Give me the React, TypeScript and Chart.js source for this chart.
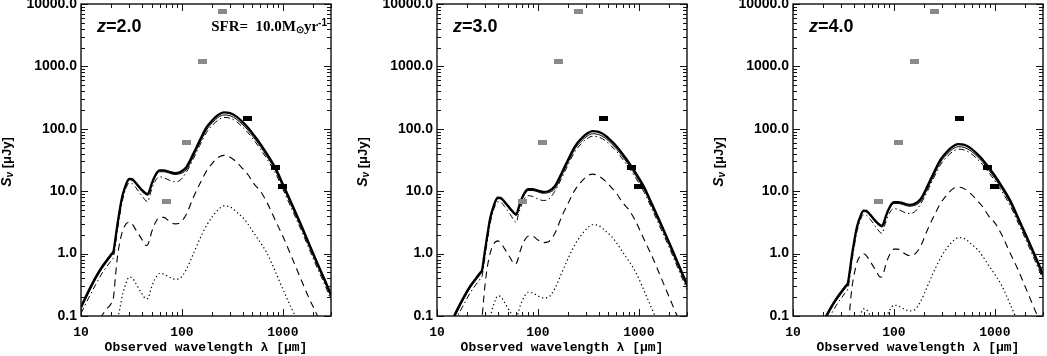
import React, { useEffect, useRef } from "react";
import { Chart, registerables } from "chart.js";

Chart.register(...registerables);

// ---------------- data ----------------
const xTickValues = [10, 100, 1000];
const yTickValues = [0.1, 1, 10, 100, 1000, 10000];

// observational limits (same in each panel)
const grayWl = [70, 110, 160, 250];
const grayFlux = [6.8, 60, 1200, 7700];
const blackWl = [450, 850, 1000];
const blackFlux = [144, 24, 12];

// z = 2.0
const wlZ2 = [10, 12, 14, 16, 18, 20, 21, 22, 23, 24, 25, 26, 28, 30, 32, 35, 40, 44, 46, 48, 50, 55, 60, 66, 75, 85, 95, 110, 130, 150, 175, 200, 230, 260, 300, 350, 400, 450, 520, 600, 700, 850, 1000, 1200, 1500, 1800, 2200, 2600, 3000];
const totalZ2 = [0.14, 0.26, 0.42, 0.6, 0.78, 0.98, 1.1, 1.8, 3.0, 4.6, 6.8, 9.0, 13, 15.8, 15.6, 13.5, 10.5, 9.2, 9.0, 10.5, 13, 18.5, 21.5, 21.5, 20.5, 19.5, 20, 24, 40, 65, 105, 137, 168, 183, 178, 155, 128, 105, 78, 57, 39, 23, 13, 6.8, 3.0, 1.5, 0.7, 0.38, 0.22];
const thinZ2 = [0.13, 0.24, 0.39, 0.56, 0.73, 0.92, 1.03, 1.7, 2.8, 4.3, 6.4, 8.5, 12.5, 15.2, 15, 13, 10, 8.8, 8.6, 10, 12.3, 17.5, 20.5, 20.5, 19.5, 18.5, 19, 21.8, 36.4, 59, 95.5, 125, 153, 166.5, 162, 141, 116.5, 95.5, 71, 52, 35.5, 21, 11.8, 6.2, 2.73, 1.37, 0.64, 0.35, 0.2];
const dashDotZ2 = [0.11, 0.2, 0.32, 0.47, 0.62, 0.78, 0.88, 1.4, 2.4, 3.7, 5.6, 7.6, 11.3, 13.5, 13.3, 11.4, 8.5, 7.0, 6.8, 8.5, 10.5, 15, 17, 16.5, 15, 14.2, 14.8, 19.9, 33.2, 54, 87, 114, 139, 152, 148, 129, 106, 87, 65, 47.3, 32.4, 19.1, 10.8, 5.6, 2.5, 1.25, 0.58, 0.32, 0.18];
const dashedZ2 = [0.03, 0.05, 0.07, 0.1, 0.13, 0.16, 0.2, 0.45, 0.9, 1.4, 1.9, 2.4, 3.0, 3.2, 3.0, 2.4, 1.7, 1.35, 1.4, 1.7, 2.2, 3.2, 3.8, 3.8, 3.3, 3.0, 3.1, 4.2, 8, 13, 21, 28, 35, 37.5, 35, 29, 23, 18.5, 13, 10, 6.5, 3.3, 1.9, 0.95, 0.4, 0.2, 0.1, 0.05, 0.025];
const dottedZ2 = [0.005, 0.01, 0.015, 0.02, 0.03, 0.04, 0.05, 0.07, 0.09, 0.12, 0.17, 0.23, 0.34, 0.42, 0.41, 0.33, 0.23, 0.19, 0.19, 0.23, 0.29, 0.41, 0.48, 0.47, 0.42, 0.39, 0.4, 0.55, 1.0, 1.7, 2.8, 3.9, 5.1, 5.8, 5.6, 4.6, 3.8, 3.0, 2.1, 1.5, 1.0, 0.5, 0.27, 0.14, 0.065, 0.03, 0.015, 0.007, 0.004];

// z = 3.0
const wlZ3 = [10, 13.3, 16, 18.7, 21.3, 24, 26.7, 28, 29.3, 30.7, 32, 33.3, 34.7, 37.3, 40, 42.7, 46.7, 53.3, 58.7, 61.3, 64, 66.7, 73.3, 80, 88, 100, 113, 127, 147, 173, 200, 233, 267, 307, 347, 400, 467, 533, 600, 693, 800, 933, 1133, 1333, 1600, 2000, 2400, 2933, 3467];
const totalZ3 = [0.03, 0.07, 0.13, 0.21, 0.3, 0.39, 0.49, 0.55, 0.9, 1.5, 2.3, 3.4, 4.5, 6.5, 7.9, 7.8, 6.75, 5.25, 4.4, 4.3, 5.25, 6.5, 9.25, 10.75, 10.75, 10.25, 9.75, 10, 12, 20, 32.5, 52.5, 68.5, 84, 91.5, 89, 77.5, 64, 52.5, 39, 28.5, 19.5, 11.5, 6.5, 3.4, 1.5, 0.75, 0.35, 0.19];
const thinZ3 = [0.028, 0.065, 0.12, 0.195, 0.28, 0.365, 0.46, 0.515, 0.85, 1.4, 2.15, 3.2, 4.25, 6.25, 7.6, 7.5, 6.5, 5, 4.2, 4.1, 5, 6.15, 8.75, 10.25, 10.25, 9.75, 9.25, 9.5, 10.9, 18.2, 29.6, 47.8, 62.3, 76.4, 83.3, 81, 70.5, 58.2, 47.8, 35.5, 25.9, 17.7, 10.5, 5.9, 3.1, 1.37, 0.68, 0.32, 0.17];
const dashDotZ3 = [0.02, 0.055, 0.1, 0.16, 0.235, 0.31, 0.39, 0.44, 0.7, 1.2, 1.85, 2.8, 3.8, 5.65, 6.75, 6.65, 5.7, 4.25, 3.3, 3.2, 4.25, 5.25, 7.5, 8.5, 8.25, 7.5, 7.1, 7.4, 9.96, 16.6, 27, 43.6, 56.9, 69.7, 75.9, 73.9, 64.3, 53.1, 43.6, 32.4, 23.7, 16.2, 9.5, 5.4, 2.8, 1.25, 0.62, 0.29, 0.16];
const dashedZ3 = [0.008, 0.015, 0.025, 0.035, 0.05, 0.065, 0.08, 0.1, 0.225, 0.45, 0.7, 0.95, 1.2, 1.5, 1.6, 1.5, 1.2, 0.85, 0.675, 0.7, 0.85, 1.1, 1.6, 1.9, 1.9, 1.65, 1.5, 1.55, 2.1, 4, 6.5, 10.5, 14, 17.5, 18.75, 17.5, 14.5, 11.5, 9.25, 6.5, 5, 3.25, 1.65, 0.95, 0.475, 0.2, 0.1, 0.05, 0.025];
const dottedZ3 = [0.001, 0.0025, 0.005, 0.0075, 0.01, 0.015, 0.02, 0.025, 0.035, 0.045, 0.06, 0.085, 0.115, 0.17, 0.21, 0.205, 0.165, 0.115, 0.095, 0.095, 0.115, 0.145, 0.205, 0.24, 0.235, 0.21, 0.195, 0.2, 0.275, 0.5, 0.85, 1.4, 1.95, 2.55, 2.9, 2.8, 2.3, 1.9, 1.5, 1.05, 0.75, 0.5, 0.25, 0.135, 0.07, 0.0325, 0.015, 0.0075, 0.0035];

// z = 4.0
const wlZ4 = [10, 16.7, 20, 23.3, 26.7, 30, 33.3, 35, 36.7, 38.3, 40, 41.7, 43.3, 46.7, 50, 53.3, 58.3, 66.7, 73.3, 76.7, 80, 83.3, 91.7, 100, 110, 125, 141.7, 158.3, 183.3, 216.7, 250, 291.7, 333.3, 383.3, 433.3, 500, 583.3, 666.7, 750, 866.7, 1000, 1166.7, 1416.7, 1666.7, 2000, 2500, 3000, 3667];
const totalZ4 = [0.015, 0.043, 0.081, 0.13, 0.186, 0.242, 0.304, 0.341, 0.558, 0.93, 1.43, 2.11, 2.79, 4.03, 4.9, 4.84, 4.19, 3.26, 2.85, 2.79, 3.26, 4.03, 5.74, 6.67, 6.67, 6.36, 6.05, 6.2, 7.44, 12.4, 20.2, 32.6, 42.5, 52.1, 56.7, 55.2, 48.1, 39.7, 32.6, 24.2, 17.7, 12.1, 7.13, 4.03, 2.11, 0.93, 0.465, 0.217];
const thinZ4 = [0.014, 0.04, 0.074, 0.121, 0.174, 0.226, 0.285, 0.319, 0.527, 0.868, 1.33, 1.98, 2.64, 3.88, 4.71, 4.65, 4.03, 3.1, 2.73, 2.67, 3.1, 3.81, 5.43, 6.36, 6.36, 6.05, 5.74, 5.89, 6.77, 11.3, 18.4, 29.7, 38.7, 47.4, 51.6, 50.2, 43.8, 36.1, 29.7, 22, 16.1, 11, 6.49, 3.67, 1.92, 0.846, 0.423, 0.197];
const dashDotZ4 = [0.01, 0.034, 0.062, 0.099, 0.146, 0.192, 0.242, 0.273, 0.434, 0.744, 1.15, 1.74, 2.36, 3.5, 4.19, 4.12, 3.53, 2.64, 2.17, 2.11, 2.64, 3.26, 4.65, 5.27, 5.12, 4.65, 4.4, 4.59, 6.18, 10.3, 16.8, 27.1, 35.3, 43.2, 47.1, 45.8, 39.9, 33, 27.1, 20.1, 14.7, 10, 5.92, 3.34, 1.75, 0.772, 0.386, 0.18];
const dashedZ4 = [0.005, 0.0093, 0.0155, 0.0217, 0.031, 0.04, 0.05, 0.062, 0.14, 0.279, 0.434, 0.589, 0.744, 0.93, 0.992, 0.93, 0.744, 0.527, 0.419, 0.434, 0.527, 0.682, 0.992, 1.18, 1.18, 1.02, 0.93, 0.961, 1.3, 2.48, 4.03, 6.51, 8.68, 10.9, 11.6, 10.9, 8.99, 7.13, 5.74, 4.03, 3.1, 2.02, 1.02, 0.589, 0.295, 0.124, 0.062, 0.031];
const dottedZ4 = [0.001, 0.0016, 0.0031, 0.0047, 0.0062, 0.0093, 0.0124, 0.0155, 0.0217, 0.0279, 0.0372, 0.0527, 0.0713, 0.105, 0.13, 0.127, 0.102, 0.0713, 0.059, 0.059, 0.0713, 0.09, 0.127, 0.149, 0.146, 0.13, 0.121, 0.124, 0.17, 0.31, 0.527, 0.868, 1.21, 1.58, 1.8, 1.74, 1.43, 1.18, 0.93, 0.651, 0.465, 0.31, 0.155, 0.084, 0.043, 0.02, 0.0093, 0.0047];

const panels = [
  { z: "2.0", wl: wlZ2, total: totalZ2, thin: thinZ2, dashDot: dashDotZ2, dashed: dashedZ2, dotted: dottedZ2, sfr: true, left: 0 },
  { z: "3.0", wl: wlZ3, total: totalZ3, thin: thinZ3, dashDot: dashDotZ3, dashed: dashedZ3, dotted: dottedZ3, sfr: false, left: 356 },
  { z: "4.0", wl: wlZ4, total: totalZ4, thin: thinZ4, dashDot: dashDotZ4, dashed: dashedZ4, dotted: dottedZ4, sfr: false, left: 712 },
];

// ---------------- styling ----------------
const SANS = "'Liberation Sans', Arial, sans-serif";
const MONO = "'Liberation Mono', 'Courier New', monospace";
const SERIF = "'Liberation Serif', 'Times New Roman', serif";
const CANVAS_W = 335;
const CANVAS_H = 356;

function rectSprite(w: number, h: number, color: string) {
  const c = document.createElement("canvas");
  c.width = w;
  c.height = h;
  const g = c.getContext("2d")!;
  g.fillStyle = color;
  g.fillRect(0, 0, w, h);
  return c;
}

function pts(xs: number[], ys: number[]) {
  return xs.map((x, i) => ({ x, y: ys[i] }));
}

type Part = { t: string; font: string; dy: number };

function drawParts(ctx: CanvasRenderingContext2D, parts: Part[], x0: number, y0: number, align: "left" | "right" | "center") {
  let total = 0;
  const widths = parts.map((p) => {
    ctx.font = p.font;
    const w = ctx.measureText(p.t).width;
    total += w;
    return w;
  });
  let x = align === "left" ? x0 : align === "right" ? x0 - total : x0 - total / 2;
  ctx.textAlign = "left";
  ctx.textBaseline = "middle";
  parts.forEach((p, i) => {
    ctx.font = p.font;
    ctx.fillText(p.t, x, y0 + p.dy);
    x += widths[i];
  });
}

function makeDecorPlugin(panel: any) {
  return {
    id: "decor" + panel.z,
    afterDraw(chart: any) {
      const { ctx, chartArea: a, scales } = chart;
      const xs = scales.x;
      const ys = scales.y;
      ctx.save();
      ctx.strokeStyle = "#111";
      ctx.fillStyle = "#000";
      ctx.lineWidth = 1;
      // tick marks on all four sides, pointing inward
      ctx.beginPath();
      for (const d of [10, 100, 1000]) {
        for (let m = 1; m <= 9; m++) {
          const v = m * d;
          if (v > 3000) continue;
          const len = m === 1 ? 7 : 4;
          const px = Math.round(xs.getPixelForValue(v)) + 0.5;
          ctx.moveTo(px, a.bottom);
          ctx.lineTo(px, a.bottom - len);
          ctx.moveTo(px, a.top);
          ctx.lineTo(px, a.top + len);
        }
      }
      for (const d of [0.1, 1, 10, 100, 1000, 10000]) {
        for (let m = 1; m <= 9; m++) {
          const v = m * d;
          if (v > 10000 * 1.0001) continue;
          const len = m === 1 ? 7 : 4;
          const py = Math.round(ys.getPixelForValue(v)) + 0.5;
          ctx.moveTo(a.left, py);
          ctx.lineTo(a.left + len, py);
          ctx.moveTo(a.right, py);
          ctx.lineTo(a.right - len, py);
        }
      }
      ctx.stroke();
      // frame
      ctx.lineWidth = 1.4;
      ctx.strokeRect(a.left, a.top, a.right - a.left, a.bottom - a.top);

      // redshift label
      drawParts(
        ctx,
        [
          { t: "z", font: `italic bold 18px ${SANS}`, dy: 0 },
          { t: "=" + panel.z, font: `bold 18px ${SANS}`, dy: 0 },
        ],
        a.left + 16,
        27,
        "left"
      );

      if (panel.sfr) {
        drawParts(
          ctx,
          [
            { t: "SFR=  10.0M", font: `bold 15px ${SERIF}`, dy: 0 },
            { t: "\u2299", font: `bold 10px ${SANS}`, dy: 3 },
            { t: "yr", font: `bold 15px ${SERIF}`, dy: 0 },
            { t: "-1", font: `bold 10px ${SANS}`, dy: -4 },
          ],
          a.right - 4,
          27,
          "right"
        );
      }

      // y-axis title, rotated
      ctx.translate(7, 162);
      ctx.rotate(-Math.PI / 2);
      drawParts(
        ctx,
        [
          { t: "S", font: `italic bold 14px ${SANS}`, dy: 0 },
          { t: "\u03BD", font: `italic bold 10px ${SANS}`, dy: 3 },
          { t: " [\u03BCJy]", font: `bold 13px ${SANS}`, dy: 0 },
        ],
        0,
        0,
        "center"
      );
      ctx.restore();
    },
  };
}

function lineDs(data: any, width: number, dash: number[]) {
  return {
    type: "line",
    data,
    borderColor: "#000",
    borderWidth: width,
    borderDash: dash,
    pointRadius: 0,
    fill: false,
    cubicInterpolationMode: "monotone",
  };
}

export default function App() {
  const refs = useRef<(HTMLCanvasElement | null)[]>([]);

  useEffect(() => {
    const grayRect = rectSprite(9, 5, "#8a8a8a");
    const blackRect = rectSprite(9, 5, "#000000");
    const charts = panels.map((panel, idx) => {
      const canvas = refs.current[idx]!;
      return new Chart(canvas, {
        type: "line",
        data: {
          datasets: [
            {
              type: "line",
              data: pts(blackWl, blackFlux),
              showLine: false,
              pointStyle: blackRect,
              pointRadius: 4,
              pointHoverRadius: 4,
              borderWidth: 0,
            } as any,
            {
              type: "line",
              data: pts(grayWl, grayFlux),
              showLine: false,
              pointStyle: grayRect,
              pointRadius: 4,
              pointHoverRadius: 4,
              borderWidth: 0,
            } as any,
            lineDs(pts(panel.wl, panel.total), 2.3, []) as any,
            lineDs(pts(panel.wl, panel.thin), 1, []) as any,
            lineDs(pts(panel.wl, panel.dashDot), 1, [6, 3, 1.5, 3]) as any,
            lineDs(pts(panel.wl, panel.dashed), 1.1, [7, 5]) as any,
            lineDs(pts(panel.wl, panel.dotted), 1.2, [1.3, 2.7]) as any,
          ],
        },
        options: {
          animation: false,
          responsive: false,
          events: [],
          layout: { padding: { left: 0, right: 1, top: 2, bottom: 0 } },
          plugins: { legend: { display: false }, tooltip: { enabled: false } },
          scales: {
            x: {
              type: "logarithmic",
              min: 10,
              max: 3000,
              afterBuildTicks: (s: any) => {
                s.ticks = xTickValues.map((v) => ({ value: v }));
              },
              afterFit: (s: any) => {
                s.height = 40;
                s.paddingLeft = 0;
                s.paddingRight = 0;
              },
              grid: { display: false, drawTicks: false },
              border: { display: false },
              ticks: {
                autoSkip: false,
                maxRotation: 0,
                minRotation: 0,
                padding: 9,
                color: "#000",
                font: { family: MONO, size: 13, weight: "bold" },
                callback: (v: any) => String(Math.round(Number(v))),
              },
              title: {
                display: true,
                text: "Observed wavelength \u03BB [\u03BCm]",
                color: "#000",
                font: { family: MONO, size: 13, weight: "bold" },
                padding: { top: 0, bottom: 0 },
              },
            },
            y: {
              type: "logarithmic",
              min: 0.1,
              max: 10000,
              afterBuildTicks: (s: any) => {
                s.ticks = yTickValues.map((v) => ({ value: v }));
              },
              afterFit: (s: any) => {
                s.width = 81;
                s.paddingTop = 0;
                s.paddingBottom = 0;
              },
              grid: { display: false, drawTicks: false },
              border: { display: false },
              ticks: {
                autoSkip: false,
                padding: 4,
                color: "#000",
                font: { family: SANS, size: 14, weight: "bold" },
                callback: (v: any) => Number(v).toFixed(1),
              },
            },
          },
        } as any,
        plugins: [makeDecorPlugin(panel)],
      });
    });
    return () => charts.forEach((c) => c.destroy());
  }, []);

  return (
    <div style={{ position: "fixed", left: 0, top: 0, width: 1047, height: 356, background: "#fff", overflow: "hidden" }}>
      {panels.map((p, i) => (
        <canvas
          key={p.z}
          ref={(el) => {
            refs.current[i] = el;
          }}
          width={CANVAS_W}
          height={CANVAS_H}
          style={{ position: "absolute", left: p.left, top: 0, width: CANVAS_W, height: CANVAS_H }}
        />
      ))}
    </div>
  );
}
